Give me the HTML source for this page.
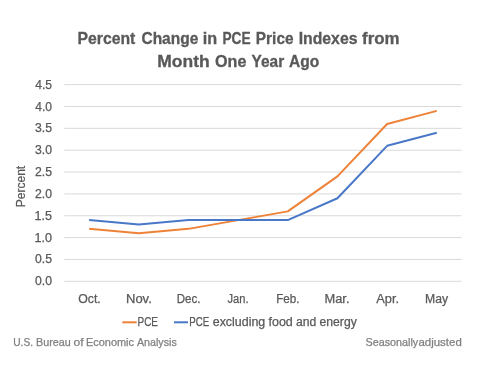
<!DOCTYPE html>
<html><head><meta charset="utf-8"><style>
html,body{margin:0;padding:0;background:#fff;}
body{width:478px;height:373px;overflow:hidden;}
svg{display:block;font-family:"Liberation Sans",sans-serif;will-change:transform;}
</style></head><body>
<svg width="478" height="373" viewBox="0 0 478 373">
<rect width="478" height="373" fill="#fff"/>
<g stroke="#d9d9d9" stroke-width="1">
<line x1="64.3" y1="281.30" x2="461.6" y2="281.30"/>
<line x1="64.3" y1="259.45" x2="461.6" y2="259.45"/>
<line x1="64.3" y1="237.60" x2="461.6" y2="237.60"/>
<line x1="64.3" y1="215.75" x2="461.6" y2="215.75"/>
<line x1="64.3" y1="193.90" x2="461.6" y2="193.90"/>
<line x1="64.3" y1="172.05" x2="461.6" y2="172.05"/>
<line x1="64.3" y1="150.20" x2="461.6" y2="150.20"/>
<line x1="64.3" y1="128.35" x2="461.6" y2="128.35"/>
<line x1="64.3" y1="106.50" x2="461.6" y2="106.50"/>
<line x1="64.3" y1="84.65" x2="461.6" y2="84.65"/>
</g>
<polyline points="89.13,228.86 138.79,233.23 188.46,228.86 238.12,220.12 287.78,211.38 337.44,176.42 387.11,123.98 436.77,110.87" fill="none" stroke="#ee8238" stroke-width="2" stroke-linejoin="round"/>
<polyline points="89.13,220.12 138.79,224.49 188.46,220.12 238.12,220.12 287.78,220.12 337.44,198.27 387.11,145.83 436.77,132.72" fill="none" stroke="#4a78c8" stroke-width="2" stroke-linejoin="round"/>
<line x1="122.3" y1="322.3" x2="136.7" y2="322.3" stroke="#ee8238" stroke-width="2"/>
<line x1="174.0" y1="322.3" x2="188.0" y2="322.3" stroke="#4a78c8" stroke-width="2"/>
<text x="77.50" y="43.90" font-size="16.3" fill="#595959" font-weight="bold" stroke="#595959" stroke-width="0.3" textLength="57.80" lengthAdjust="spacingAndGlyphs">Percent</text>
<text x="141.45" y="43.90" font-size="16.3" fill="#595959" font-weight="bold" stroke="#595959" stroke-width="0.3" textLength="56.90" lengthAdjust="spacingAndGlyphs">Change</text>
<text x="202.80" y="43.90" font-size="16.3" fill="#595959" font-weight="bold" stroke="#595959" stroke-width="0.3" textLength="14.40" lengthAdjust="spacingAndGlyphs">in</text>
<text x="222.40" y="43.90" font-size="16.3" fill="#595959" font-weight="bold" stroke="#595959" stroke-width="0.3" textLength="28.20" lengthAdjust="spacingAndGlyphs">PCE</text>
<text x="255.85" y="43.90" font-size="16.3" fill="#595959" font-weight="bold" stroke="#595959" stroke-width="0.3" textLength="37.70" lengthAdjust="spacingAndGlyphs">Price</text>
<text x="298.70" y="43.90" font-size="16.3" fill="#595959" font-weight="bold" stroke="#595959" stroke-width="0.3" textLength="58.75" lengthAdjust="spacingAndGlyphs">Indexes</text>
<text x="362.10" y="43.90" font-size="16.3" fill="#595959" font-weight="bold" stroke="#595959" stroke-width="0.3" textLength="37.50" lengthAdjust="spacingAndGlyphs">from</text>
<text x="157.25" y="67.20" font-size="16.3" fill="#595959" font-weight="bold" stroke="#595959" stroke-width="0.3" textLength="52.40" lengthAdjust="spacingAndGlyphs">Month</text>
<text x="215.00" y="67.20" font-size="16.3" fill="#595959" font-weight="bold" stroke="#595959" stroke-width="0.3" textLength="31.35" lengthAdjust="spacingAndGlyphs">One</text>
<text x="251.55" y="67.20" font-size="16.3" fill="#595959" font-weight="bold" stroke="#595959" stroke-width="0.3" textLength="32.65" lengthAdjust="spacingAndGlyphs">Year</text>
<text x="289.10" y="67.20" font-size="16.3" fill="#595959" font-weight="bold" stroke="#595959" stroke-width="0.3" textLength="30.25" lengthAdjust="spacingAndGlyphs">Ago</text>
<text x="35.00" y="285.30" font-size="12" fill="#595959" stroke="#595959" stroke-width="0.25" textLength="17.00" lengthAdjust="spacingAndGlyphs">0.0</text>
<text x="35.00" y="263.45" font-size="12" fill="#595959" stroke="#595959" stroke-width="0.25" textLength="17.00" lengthAdjust="spacingAndGlyphs">0.5</text>
<text x="34.50" y="241.60" font-size="12" fill="#595959" stroke="#595959" stroke-width="0.25" textLength="17.50" lengthAdjust="spacingAndGlyphs">1.0</text>
<text x="34.50" y="219.75" font-size="12" fill="#595959" stroke="#595959" stroke-width="0.25" textLength="17.50" lengthAdjust="spacingAndGlyphs">1.5</text>
<text x="35.00" y="197.90" font-size="12" fill="#595959" stroke="#595959" stroke-width="0.25" textLength="17.00" lengthAdjust="spacingAndGlyphs">2.0</text>
<text x="35.00" y="176.05" font-size="12" fill="#595959" stroke="#595959" stroke-width="0.25" textLength="17.00" lengthAdjust="spacingAndGlyphs">2.5</text>
<text x="35.00" y="154.20" font-size="12" fill="#595959" stroke="#595959" stroke-width="0.25" textLength="17.00" lengthAdjust="spacingAndGlyphs">3.0</text>
<text x="35.00" y="132.35" font-size="12" fill="#595959" stroke="#595959" stroke-width="0.25" textLength="17.00" lengthAdjust="spacingAndGlyphs">3.5</text>
<text x="35.25" y="110.50" font-size="12" fill="#595959" stroke="#595959" stroke-width="0.25" textLength="16.75" lengthAdjust="spacingAndGlyphs">4.0</text>
<text x="35.25" y="88.65" font-size="12" fill="#595959" stroke="#595959" stroke-width="0.25" textLength="16.75" lengthAdjust="spacingAndGlyphs">4.5</text>
<text x="78.25" y="302.80" font-size="12" fill="#595959" stroke="#595959" stroke-width="0.25" textLength="22.50" lengthAdjust="spacingAndGlyphs">Oct.</text>
<text x="126.00" y="302.80" font-size="12" fill="#595959" stroke="#595959" stroke-width="0.25" textLength="25.75" lengthAdjust="spacingAndGlyphs">Nov.</text>
<text x="176.75" y="302.80" font-size="12" fill="#595959" stroke="#595959" stroke-width="0.25" textLength="23.75" lengthAdjust="spacingAndGlyphs">Dec.</text>
<text x="227.50" y="302.80" font-size="12" fill="#595959" stroke="#595959" stroke-width="0.25" textLength="21.00" lengthAdjust="spacingAndGlyphs">Jan.</text>
<text x="276.25" y="302.80" font-size="12" fill="#595959" stroke="#595959" stroke-width="0.25" textLength="23.25" lengthAdjust="spacingAndGlyphs">Feb.</text>
<text x="324.50" y="302.80" font-size="12" fill="#595959" stroke="#595959" stroke-width="0.25" textLength="25.00" lengthAdjust="spacingAndGlyphs">Mar.</text>
<text x="376.25" y="302.80" font-size="12" fill="#595959" stroke="#595959" stroke-width="0.25" textLength="22.75" lengthAdjust="spacingAndGlyphs">Apr.</text>
<text x="425.00" y="302.80" font-size="12" fill="#595959" stroke="#595959" stroke-width="0.25" textLength="23.00" lengthAdjust="spacingAndGlyphs">May</text>
<text x="137.50" y="326.10" font-size="12" fill="#595959" stroke="#595959" stroke-width="0.25" textLength="20.50" lengthAdjust="spacingAndGlyphs">PCE</text>
<text x="189.25" y="326.10" font-size="12" fill="#595959" stroke="#595959" stroke-width="0.25" textLength="20.00" lengthAdjust="spacingAndGlyphs">PCE</text>
<text x="212.75" y="326.10" font-size="12" fill="#595959" stroke="#595959" stroke-width="0.25" textLength="52.50" lengthAdjust="spacingAndGlyphs">excluding</text>
<text x="268.50" y="326.10" font-size="12" fill="#595959" stroke="#595959" stroke-width="0.25" textLength="24.25" lengthAdjust="spacingAndGlyphs">food</text>
<text x="295.90" y="326.10" font-size="12" fill="#595959" stroke="#595959" stroke-width="0.25" textLength="20.35" lengthAdjust="spacingAndGlyphs">and</text>
<text x="319.50" y="326.10" font-size="12" fill="#595959" stroke="#595959" stroke-width="0.25" textLength="37.25" lengthAdjust="spacingAndGlyphs">energy</text>
<text x="13.25" y="345.60" font-size="10.6" fill="#808080" stroke="#808080" stroke-width="0.25" textLength="19.75" lengthAdjust="spacingAndGlyphs">U.S.</text>
<text x="36.00" y="345.60" font-size="10.6" fill="#808080" stroke="#808080" stroke-width="0.25" textLength="34.75" lengthAdjust="spacingAndGlyphs">Bureau</text>
<text x="73.50" y="345.60" font-size="10.6" fill="#808080" stroke="#808080" stroke-width="0.25" textLength="10.00" lengthAdjust="spacingAndGlyphs">of</text>
<text x="86.00" y="345.60" font-size="10.6" fill="#808080" stroke="#808080" stroke-width="0.25" textLength="48.00" lengthAdjust="spacingAndGlyphs">Economic</text>
<text x="137.00" y="345.60" font-size="10.6" fill="#808080" stroke="#808080" stroke-width="0.25" textLength="39.75" lengthAdjust="spacingAndGlyphs">Analysis</text>
<text x="365.50" y="345.60" font-size="10.6" fill="#808080" stroke="#808080" stroke-width="0.25" textLength="52.75" lengthAdjust="spacingAndGlyphs">Seasonally</text>
<text x="418.50" y="345.60" font-size="10.6" fill="#808080" stroke="#808080" stroke-width="0.25" textLength="43.25" lengthAdjust="spacingAndGlyphs">adjusted</text>
<text x="0" y="0" font-size="12.0" fill="#595959" stroke="#595959" stroke-width="0.25" textLength="41.40" lengthAdjust="spacingAndGlyphs" transform="translate(25.45 207.20) rotate(-90)">Percent</text>
</svg>
</body></html>
